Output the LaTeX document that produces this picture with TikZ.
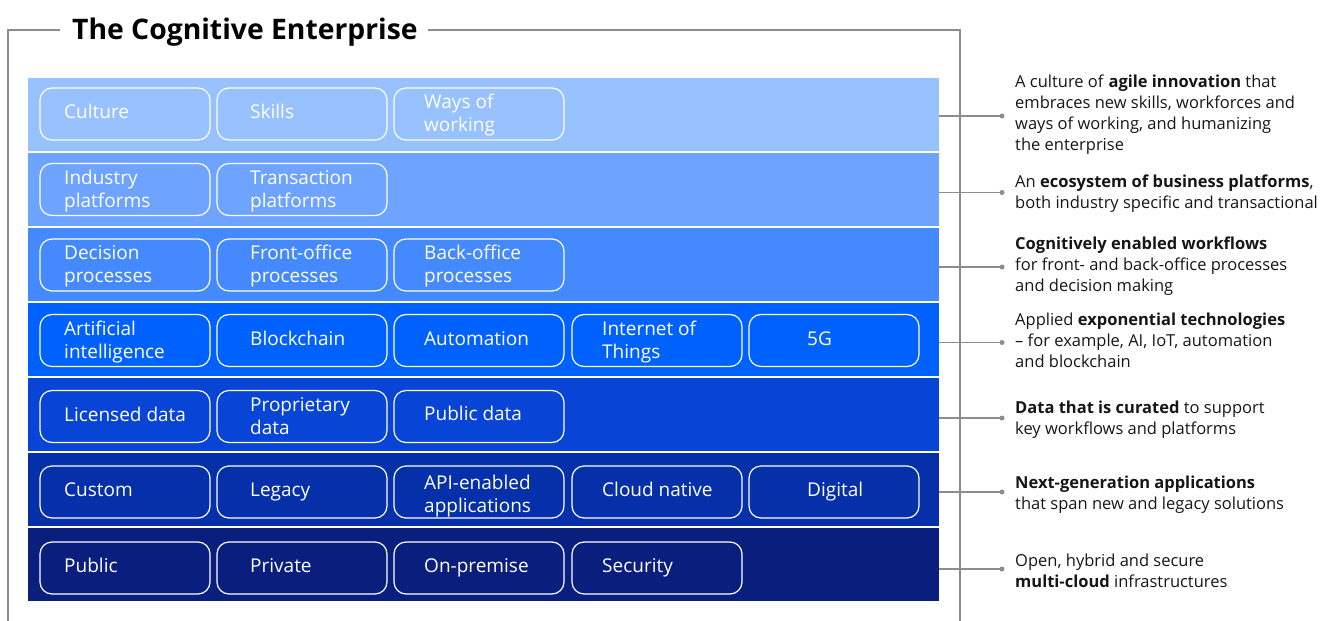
\documentclass[tikz,border=0pt]{standalone}
\usepackage{fontspec}
\setmainfont{Open Sans}
\usetikzlibrary{calc}

\definecolor{layerA}{HTML}{97C1FF}
\definecolor{layerB}{HTML}{6EA4FF}
\definecolor{layerC}{HTML}{4589FF}
\definecolor{layerD}{HTML}{0062FE}
\definecolor{layerE}{HTML}{0845D6}
\definecolor{layerF}{HTML}{0530AA}
\definecolor{layerG}{HTML}{0A1F7D}
\definecolor{rule}{HTML}{8D8D8D}
\definecolor{ink}{HTML}{161616}

\tikzset{
  band/.style={fill=#1, draw=none, minimum width=911pt, minimum height=73pt, inner sep=0pt, outer sep=0pt},
  cell/.style={draw=white, line width=1.2pt, rounded corners=12pt, minimum width=170pt, minimum height=52pt, inner sep=0pt},
  % base anchor sits on the baseline of the last line
  lbl/.style={anchor=base west, text=white, align=left, inner sep=0pt, font=\fontsize{19}{23}\selectfont},
  note/.style={anchor=base west, text=ink, align=left, inner sep=0pt, font=\fontsize{16.5}{21.3}\selectfont},
  conn/.style={draw=rule, line width=1.4pt},
  framerule/.style={draw=rule, line width=1.1pt},
  dot/.style={circle, fill=rule, inner sep=0pt, minimum size=5pt},
}

\begin{document}
\begin{tikzpicture}[x=1pt, y=-1pt]
\useasboundingbox (0,0) rectangle (1344,621);

% outer frame with title
\node[anchor=base west, inner sep=0pt, text=black, font=\fontsize{28.3}{32}\bfseries\selectfont] (title) at (72,39) {The Cognitive Enterprise};
\draw[framerule] (60,30) -- (8,30) -- (8,621);
\draw[framerule] (428,30) -- (960,30) -- (960,621);

% layers
\node[band=layerA] (b1) at (483.5,114.5) {};
\node[band=layerB] (b2) at (483.5,189.5) {};
\node[band=layerC] (b3) at (483.5,264.5) {};
\node[band=layerD] (b4) at (483.5,339.5) {};
\node[band=layerE] (b5) at (483.5,414.5) {};
\node[band=layerF] (b6) at (483.5,489.5) {};
\node[band=layerG] (b7) at (483.5,564.5) {};

% layer 1
\node[cell] (c11) at (125,114) {};
\node[cell] (c12) at (302,114) {};
\node[cell] (c13) at (479,114) {};
\node[lbl] at (64,118.5) {Culture};
\node[lbl] at (250,118.5) {Skills};
\node[lbl] at (424,131.5) {Ways of\\working};

% layer 2
\node[cell] (c21) at (125,189.5) {};
\node[cell] (c22) at (302,189.5) {};
\node[lbl] at (64,207) {Industry\\platforms};
\node[lbl] at (250,207) {Transaction\\platforms};

% layer 3
\node[cell] (c31) at (125,265) {};
\node[cell] (c32) at (302,265) {};
\node[cell] (c33) at (479,265) {};
\node[lbl] at (64,282.5) {Decision\\processes};
\node[lbl] at (250,282.5) {Front-office\\processes};
\node[lbl] at (424,282.5) {Back-office\\processes};

% layer 4
\node[cell] (c41) at (125,340.5) {};
\node[cell] (c42) at (302,340.5) {};
\node[cell] (c43) at (479,340.5) {};
\node[cell] (c44) at (657,340.5) {};
\node[cell] (c45) at (834,340.5) {};
\node[lbl] at (64,358) {Artificial\\intelligence};
\node[lbl] at (250,345) {Blockchain};
\node[lbl] at (424,345) {Automation};
\node[lbl] at (602,358) {Internet of\\Things};
\node[lbl] at (807,345) {5G};

% layer 5
\node[cell] (c51) at (125,416.5) {};
\node[cell] (c52) at (302,416.5) {};
\node[cell] (c53) at (479,416.5) {};
\node[lbl] at (64,421) {Licensed data};
\node[lbl] at (250,434) {Proprietary\\data};
\node[lbl] at (424,420.5) {Public data};

% layer 6
\node[cell] (c61) at (125,492) {};
\node[cell] (c62) at (302,492) {};
\node[cell] (c63) at (479,492) {};
\node[cell] (c64) at (657,492) {};
\node[cell] (c65) at (834,492) {};
\node[lbl] at (64,496.5) {Custom};
\node[lbl] at (250,496.5) {Legacy};
\node[lbl] at (424,512) {API-enabled\\applications};
\node[lbl] at (602,496.5) {Cloud native};
\node[lbl] at (807,496.5) {Digital};

% layer 7
\node[cell] (c71) at (125,568) {};
\node[cell] (c72) at (302,568) {};
\node[cell] (c73) at (479,568) {};
\node[cell] (c74) at (657,568) {};
\node[lbl] at (64,572.5) {Public};
\node[lbl] at (250,572.5) {Private};
\node[lbl] at (424,572.5) {On-premise};
\node[lbl] at (602,572.5) {Security};

% leader lines and descriptions
\node[dot] (d1) at (1002,116) {};
\node[dot] (d2) at (1002,192.5) {};
\node[dot] (d3) at (1002,267) {};
\node[dot] (d4) at (1002,342.5) {};
\node[dot] (d5) at (1002,418) {};
\node[dot] (d6) at (1002,492) {};
\node[dot] (d7) at (1002,569) {};
\foreach \i in {1,...,7} {
  \draw[conn] (b\i.east |- d\i) -- (d\i.center);
}

\node[note] (n1) at (1015,150.9) {A culture of \textbf{agile innovation} that\\embraces new skills, workforces and\\ways of working, and humanizing\\the enterprise};
\node[note] (n2) at (1015,208.3) {An \textbf{ecosystem of business platforms},\\both industry specific and transactional};
\node[note] (n3) at (1015,291.6) {\textbf{Cognitively enabled workflows}\\for front- and back-office processes\\and decision making};
\node[note] (n4) at (1015,367.6) {Applied \textbf{exponential technologies}\\– for example, AI, IoT, automation\\and blockchain};
\node[note] (n5) at (1015,434.6) {\textbf{Data that is curated} to support\\key workflows and platforms};
\node[note] (n6) at (1015,509.6) {\textbf{Next-generation applications}\\that span new and legacy solutions};
\node[note] (n7) at (1015,587.3) {Open, hybrid and secure\\\textbf{multi-cloud} infrastructures};
\end{tikzpicture}
\end{document}
